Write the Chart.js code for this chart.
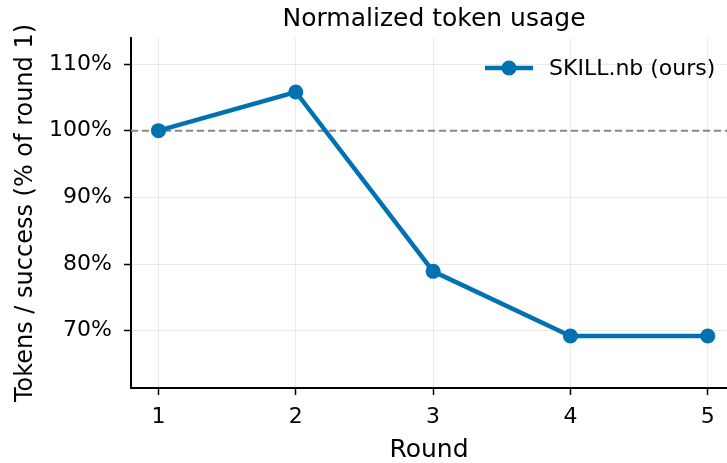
<!DOCTYPE html>
<html>
<head>
<meta charset="utf-8">
<script src="https://cdn.jsdelivr.net/npm/chart.js@4/dist/chart.umd.min.js"></script>
<style>
  html, body { margin: 0; padding: 0; background: #fff; }
  #wrap { width: 727px; height: 463px; }
</style>
</head>
<body>
<div id="wrap"><canvas id="chart" width="727" height="463"></canvas></div>
<script>
// ---- data ----
const rounds = [1, 2, 3, 4, 5];
const tokenUsage = [100, 105.8, 78.9, 69.2, 69.2];
const baseline = 100;
const yTicks = [70, 80, 90, 100, 110];
const xTicks = [1, 2, 3, 4, 5];
const xRange = [0.8, 5.14];
const yRange = [61.4, 113.9];

const BLUE = '#0072B2';
const FONT = "'DejaVu Sans', sans-serif";

// title + legend drawn by hand so they sit where matplotlib put them
const overlay = {
  id: 'overlay',
  afterDraw(chart) {
    const ctx = chart.ctx;
    ctx.save();
    ctx.fillStyle = '#000';
    ctx.font = `25px ${FONT}`;
    ctx.textAlign = 'center';
    ctx.textBaseline = 'alphabetic';
    ctx.fillText('Normalized token usage', 434, 26);

    // legend
    const ly = 68;
    ctx.strokeStyle = BLUE;
    ctx.lineWidth = 4.5;
    ctx.beginPath();
    ctx.moveTo(485, ly);
    ctx.lineTo(533, ly);
    ctx.stroke();
    ctx.fillStyle = BLUE;
    ctx.beginPath();
    ctx.arc(509, ly, 7.5, 0, Math.PI * 2);
    ctx.fill();
    ctx.fillStyle = '#000';
    ctx.font = `22px ${FONT}`;
    ctx.textAlign = 'left';
    ctx.textBaseline = 'middle';
    ctx.fillText('SKILL.nb (ours)', 549, ly + 1);
    ctx.restore();
  }
};

new Chart(document.getElementById('chart'), {
  type: 'line',
  data: {
    datasets: [
      {
        label: 'SKILL.nb (ours)',
        data: rounds.map((r, i) => ({ x: r, y: tokenUsage[i] })),
        borderColor: BLUE,
        backgroundColor: BLUE,
        borderWidth: 4.5,
        pointRadius: 7.5,
        pointHoverRadius: 7.5,
        pointBorderWidth: 0,
        tension: 0
      },
      {
        label: 'baseline',
        data: [{ x: xRange[0], y: baseline }, { x: xRange[1], y: baseline }],
        borderColor: '#888888',
        borderWidth: 2,
        borderDash: [7, 4],
        pointRadius: 0
      }
    ]
  },
  options: {
    responsive: false,
    animation: false,
    layout: { autoPadding: false, padding: { top: 38, left: 0, right: 0, bottom: 0 } },
    plugins: {
      legend: { display: false },
      title: { display: false },
      tooltip: { enabled: false }
    },
    scales: {
      x: {
        type: 'linear',
        min: xRange[0],
        max: xRange[1],
        afterBuildTicks: s => { s.ticks = xTicks.map(v => ({ value: v })); },
        afterFit: s => { s.height = 75; s.paddingLeft = 0; s.paddingRight = 0; },
        grid: {
          color: 'rgba(0,0,0,0.08)',
          lineWidth: 1,
          tickLength: 7,
          tickColor: '#000',
          tickWidth: 1.5
        },
        border: { display: true, color: '#000', width: 2 },
        ticks: {
          color: '#000',
          font: { family: FONT, size: 22, lineHeight: 1 },
          padding: 11,
          maxRotation: 0,
          autoSkip: false
        },
        title: {
          display: true,
          text: 'Round',
          color: '#000',
          font: { family: FONT, size: 25, lineHeight: 1 },
          padding: { top: 0, bottom: 0 }
        }
      },
      y: {
        type: 'linear',
        min: yRange[0],
        max: yRange[1],
        afterBuildTicks: s => { s.ticks = yTicks.map(v => ({ value: v })); },
        afterFit: s => { s.width = 131; s.paddingTop = 0; s.paddingBottom = 0; },
        grid: {
          color: 'rgba(0,0,0,0.08)',
          lineWidth: 1,
          tickLength: 7,
          tickColor: '#000',
          tickWidth: 1.5
        },
        border: { display: true, color: '#000', width: 2 },
        ticks: {
          color: '#000',
          font: { family: FONT, size: 22 },
          padding: 12,
          callback: v => v + '%'
        },
        title: {
          display: true,
          text: 'Tokens / success (% of round 1)',
          color: '#000',
          font: { family: FONT, size: 24, lineHeight: 1 },
          padding: { top: 14, bottom: 0 }
        }
      }
    }
  },
  plugins: [overlay]
});
</script>
</body>
</html>
